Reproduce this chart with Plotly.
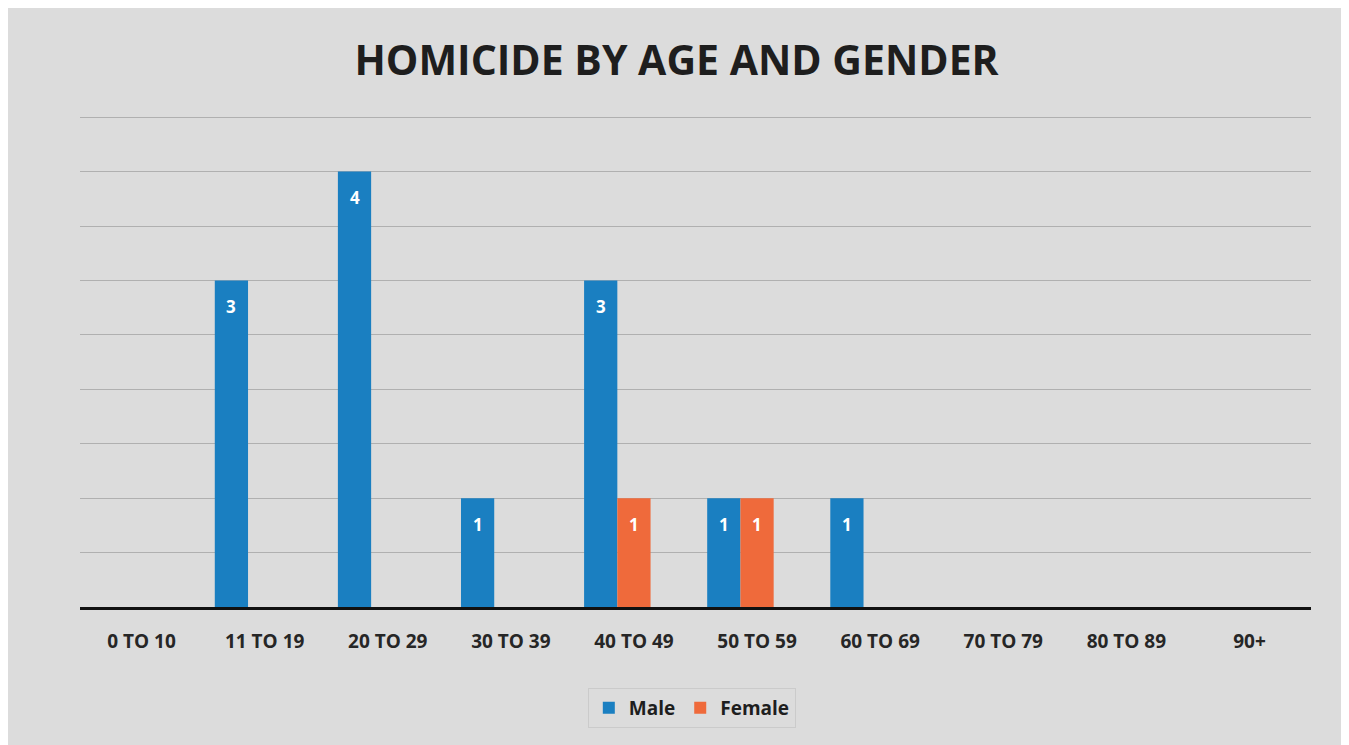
import plotly.graph_objects as go

categories = ["0 TO 10", "11 TO 19", "20 TO 29", "30 TO 39", "40 TO 49",
              "50 TO 59", "60 TO 69", "70 TO 79", "80 TO 89", "90+"]
male = [0, 3, 4, 1, 3, 1, 1, 0, 0, 0]
female = [0, 0, 0, 0, 1, 1, 0, 0, 0, 0]

FONT = "Open Sans"
BAR_W = 0.27
fig = go.Figure()
fig.add_trace(go.Bar(
    x=categories, y=male, name="Male", marker_color="#1a7fc1",
    marker_line_width=0, width=BAR_W, offset=-1.5 * BAR_W,
))
fig.add_trace(go.Bar(
    x=categories, y=female, name="Female", marker_color="#ef6a3b",
    marker_line_width=0, width=BAR_W, offset=-0.5 * BAR_W,
))

# value labels inside the bars, placed via the axes from the data
annotations = []
for series, center in ((male, -BAR_W), (female, 0.0)):
    for i, v in enumerate(series):
        if v:
            annotations.append(dict(
                x=i + center, y=v, xref="x", yref="y", text=str(v),
                showarrow=False, yshift=-26, yanchor="middle",
                font=dict(color="white", size=17, family=FONT, weight="bold"),
            ))

fig.update_layout(
    width=1349, height=745,
    paper_bgcolor="#dcdcdc", plot_bgcolor="#dcdcdc",
    barmode="overlay",
    margin=dict(l=72, r=46, t=107, b=146),
    title=dict(text="HOMICIDE BY AGE AND GENDER", x=0.4956, xanchor="center",
               y=0.929, yanchor="middle",
               font=dict(family=FONT, size=41, color="#1e1e1e", weight="bold")),
    font=dict(family=FONT, color="#2a2a2a"),
    showlegend=True,
    legend=dict(orientation="h", x=0.497, xanchor="center", y=-0.205, yanchor="middle",
                font=dict(size=19, color="#1e1e1e", family=FONT, weight="bold"),
                bgcolor="rgba(0,0,0,0)", bordercolor="#cbcbcb", borderwidth=1,
                itemsizing="constant", itemwidth=30, traceorder="normal"),
    annotations=annotations,
)
fig.update_xaxes(
    showgrid=False, showline=True, linecolor="#111111", linewidth=3,
    ticks="", tickfont=dict(size=19, color="#262626", family=FONT, weight="bold"),
    ticklabelstandoff=15,
)
fig.update_yaxes(
    range=[0, 4.52], dtick=0.5, showgrid=True, gridcolor="#b0b0b0", gridwidth=1,
    showticklabels=False, zeroline=False, showline=False,
)

fig.write_html("out.html")
